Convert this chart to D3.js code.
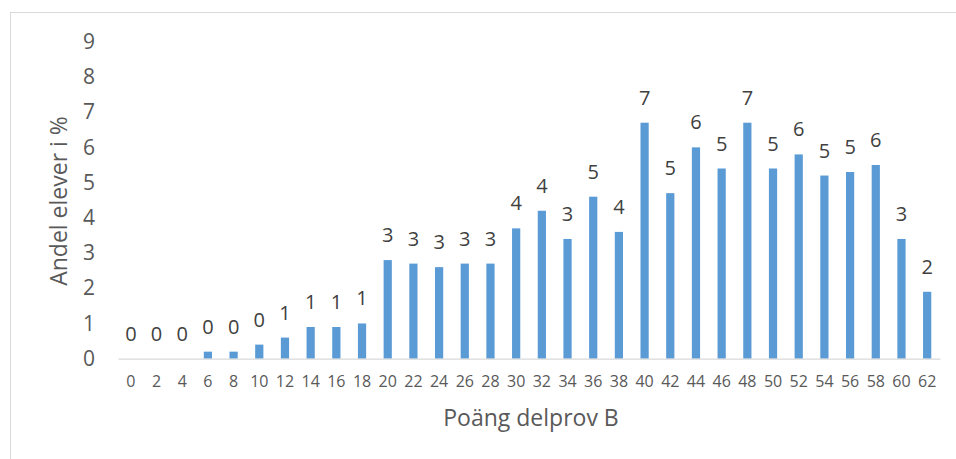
<!DOCTYPE html>
<meta charset="utf-8">
<style>

body {
  margin: 0;
  background: #fff;
}

svg {
  font-family: "Open Sans", sans-serif;
}

</style>
<body>
<script src="https://cdnjs.cloudflare.com/ajax/libs/d3/7.8.5/d3.min.js"></script>
<script>

var points = [0, 2, 4, 6, 8, 10, 12, 14, 16, 18, 20, 22, 24, 26, 28, 30,
              32, 34, 36, 38, 40, 42, 44, 46, 48, 50, 52, 54, 56, 58, 60, 62];

var shares = [0, 0, 0, 0.2, 0.2, 0.4, 0.6, 0.9, 0.9, 1.0, 2.8, 2.7, 2.6, 2.7, 2.7, 3.7,
              4.2, 3.4, 4.6, 3.6, 6.7, 4.7, 6.0, 5.4, 6.7, 5.4, 5.8, 5.2, 5.3, 5.5, 3.4, 1.9];

var yTicks = [0, 1, 2, 3, 4, 5, 6, 7, 8, 9];

var yTitle = "Andel elever i %",
    xTitle = "Poäng delprov B";

</script>
<script>

var width = 956,
    height = 459,
    margin = {top: 41.7, right: 16, bottom: 100.3, left: 118};

var svg = d3.select("body").append("svg")
    .attr("width", width)
    .attr("height", height);

// chart frame
svg.append("rect")
    .attr("x", 10.5)
    .attr("y", 12.5)
    .attr("width", 960)
    .attr("height", 470)
    .attr("fill", "none")
    .attr("stroke", "#d9d9d9");

var x = d3.scaleBand()
    .domain(points)
    .range([margin.left, width - margin.right])
    .paddingInner(0.68)
    .paddingOuter(0.34);

var y = d3.scaleLinear()
    .domain([0, 9])
    .range([height - margin.bottom, margin.top]);

svg.append("g")
    .attr("fill", "#5b9bd5")
  .selectAll("rect")
  .data(shares)
  .enter().append("rect")
    .attr("x", function(d, i) { return x(points[i]); })
    .attr("y", function(d) { return y(d); })
    .attr("width", x.bandwidth())
    .attr("height", function(d) { return y(0) - y(d); });

svg.append("g")
    .attr("fill", "#404040")
    .attr("font-size", 20)
    .attr("text-anchor", "middle")
  .selectAll("text")
  .data(shares)
  .enter().append("text")
    .attr("x", function(d, i) { return x(points[i]) + x.bandwidth() / 2; })
    .attr("y", function(d) { return y(d) - 18; })
    .text(function(d) { return Math.round(d); });

// x axis
var xAxis = svg.append("g")
    .attr("transform", "translate(0," + y(0) + ")")
    .call(d3.axisBottom(x.copy().paddingInner(0).paddingOuter(0)).tickSize(0).tickPadding(17));

xAxis.select(".domain")
    .attr("stroke", "#d9d9d9")
    .attr("stroke-width", 1.3);

xAxis.selectAll("text")
    .attr("fill", "#595959")
    .attr("font-size", 16)
    .attr("font-family", "Open Sans, sans-serif");

// y axis
var yAxis = svg.append("g")
    .attr("transform", "translate(95,0)")
    .call(d3.axisLeft(y).tickValues(yTicks).tickSize(0).tickPadding(0));

yAxis.select(".domain").remove();

yAxis.selectAll("text")
    .attr("fill", "#595959")
    .attr("font-size", 21)
    .attr("font-family", "Open Sans, sans-serif");

svg.append("text")
    .attr("transform", "translate(67,201) rotate(-90)")
    .attr("text-anchor", "middle")
    .attr("fill", "#595959")
    .attr("font-size", 23)
    .text(yTitle);

svg.append("text")
    .attr("x", 531)
    .attr("y", 426)
    .attr("text-anchor", "middle")
    .attr("fill", "#595959")
    .attr("font-size", 23)
    .text(xTitle);

</script>
